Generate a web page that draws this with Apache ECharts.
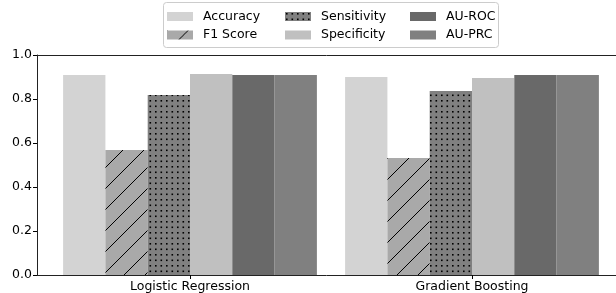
<!DOCTYPE html>
<html>
<head>
<meta charset="utf-8">
<script src="https://cdn.jsdelivr.net/npm/echarts@6/dist/echarts.min.js"></script>
<style>
  html, body { margin: 0; padding: 0; background: #fff; }
  #chart { width: 616px; height: 293px; }
</style>
</head>
<body>
<div id="chart"></div>
<script>
"use strict";

const CATEGORIES  = ["Logistic Regression", "Gradient Boosting"];
const METRICS     = ["Accuracy", "F1 Score", "Sensitivity", "Specificity", "AU-ROC", "AU-PRC"];
const ACCURACY    = [0.909, 0.900];
const F1_SCORE    = [0.568, 0.532];
const SENSITIVITY = [0.818, 0.836];
const SPECIFICITY = [0.914, 0.895];
const AU_ROC      = [0.909, 0.909];
const AU_PRC      = [0.909, 0.909];
const Y_TICKS     = [0, 0.2, 0.4, 0.6, 0.8, 1.0];

const FONT = "DejaVu Sans";
const FS   = 12.5;

/* ── 填充图案 ── */
function hatchPattern(bg) {
  const c = document.createElement("canvas");
  c.width = 21; c.height = 21;
  const g = c.getContext("2d");
  g.fillStyle = bg; g.fillRect(0, 0, 21, 21);
  g.strokeStyle = "#000"; g.lineWidth = 1;
  g.beginPath();
  g.moveTo(-2, 23); g.lineTo(23, -2);
  g.stroke();
  return { image: c, repeat: "repeat" };
}

function dotPattern(bg) {
  const c = document.createElement("canvas");
  c.width = 11; c.height = 11;
  const g = c.getContext("2d");
  g.fillStyle = bg; g.fillRect(0, 0, 11, 11);
  g.fillStyle = "#000";
  [[1, 1], [6.5, 1], [1, 6.5], [6.5, 6.5]].forEach(p => g.fillRect(p[0], p[1], 1.6, 1.6));
  return { image: c, repeat: "repeat" };
}

const SERIES_DATA = [ACCURACY, F1_SCORE, SENSITIVITY, SPECIFICITY, AU_ROC, AU_PRC];
const FILLS = [
  "#d3d3d3",
  hatchPattern("#a9a9a9"),
  dotPattern("#808080"),
  "#c0c0c0",
  "#696969",
  "#808080"
];

const chart = echarts.init(document.getElementById("chart"), null, { renderer: "canvas" });

const legendBase = (names, left) => ({
  data: names, left: left, top: 10, orient: "vertical", padding: 0,
  icon: "rect", itemWidth: 26, itemHeight: 9, itemGap: 5.5,
  selectedMode: false,
  textStyle: { fontFamily: FONT, fontSize: FS, color: "#000", padding: [0, 0, 0, 5] }
});

chart.setOption({
  animation: false,
  backgroundColor: "#fff",
  graphic: [{
    type: "rect", z: -1,
    shape: { x: 163.5, y: 2.5, width: 335, height: 45, r: 3 },
    style: { fill: "#fff", stroke: "#cccccc", lineWidth: 1 }
  }],
  legend: [
    legendBase(METRICS.slice(0, 2), 167),
    legendBase(METRICS.slice(2, 4), 285),
    legendBase(METRICS.slice(4, 6), 410)
  ],
  grid: [
    { left: 49, right: 3, top: 55, bottom: 18 },
    { left: 37, right: -10, top: 55, bottom: 18 }
  ],
  xAxis: [
    {
      type: "category", data: CATEGORIES, gridIndex: 0,
      axisLine: { show: false },
      axisTick: { show: true, alignWithLabel: true, length: 4, lineStyle: { color: "#000" } },
      axisLabel: { fontFamily: FONT, fontSize: FS, color: "#000", margin: 5 }
    },
    {
      type: "value", gridIndex: 1, position: "bottom", min: 0, max: 1,
      axisLine: { show: true, onZero: false, lineStyle: { color: "#222", width: 1 } },
      axisTick: { show: false }, axisLabel: { show: false }, splitLine: { show: false }
    },
    {
      type: "value", gridIndex: 1, position: "top", min: 0, max: 1,
      axisLine: { show: true, onZero: false, lineStyle: { color: "#222", width: 1 } },
      axisTick: { show: false }, axisLabel: { show: false }, splitLine: { show: false }
    }
  ],
  yAxis: [
    {
      type: "value", gridIndex: 0, min: 0, max: 1, show: false, splitLine: { show: false }
    },
    {
      type: "value", gridIndex: 1, min: Y_TICKS[0], max: Y_TICKS[Y_TICKS.length - 1], interval: 0.2,
      axisLine: { show: true, lineStyle: { color: "#222", width: 1 } },
      axisTick: { show: true, length: 4, lineStyle: { color: "#000" } },
      axisLabel: { fontFamily: FONT, fontSize: FS, color: "#000", margin: 5, formatter: v => v.toFixed(1) },
      splitLine: { show: false }
    }
  ],
  series: METRICS.map((name, i) => ({
    name: name, type: "bar", xAxisIndex: 0, yAxisIndex: 0,
    data: SERIES_DATA[i],
    barWidth: 42.3, barGap: "0%",
    itemStyle: { color: FILLS[i] }
  }))
});
</script>
</body>
</html>
